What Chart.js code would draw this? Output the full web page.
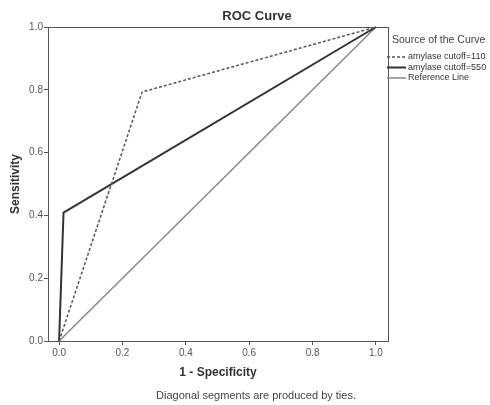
<!DOCTYPE html>
<html>
<head>
<meta charset="utf-8">
<script src="https://cdn.jsdelivr.net/npm/chart.js@4/dist/chart.umd.min.js"></script>
<style>
  html, body { margin: 0; padding: 0; background: #fff; }
  #wrap { width: 490px; height: 405px; }
</style>
</head>
<body>
<div id="wrap"><canvas id="roc"></canvas></div>
<script>
// values
const seriesNames = ["amylase cutoff=110", "amylase cutoff=550", "Reference Line"];
const fpr110 = [0, 0.262, 1];
const tpr110 = [0, 0.793, 1];
const fpr550 = [0, 0.014, 1];
const tpr550 = [0, 0.409, 1];
const fprRef = [0, 1];
const tprRef = [0, 1];
const xTicks = [0, 0.2, 0.4, 0.6, 0.8, 1.0];
const yTicks = [0, 0.2, 0.4, 0.6, 0.8, 1.0];

const FONT = "'Liberation Sans', Arial, sans-serif";

function toPoints(xs, ys) {
  return xs.map((x, i) => ({ x: x, y: ys[i] }));
}

// title, frame, legend and footnote
const decor = {
  id: "decor",
  afterDraw(chart) {
    const ctx = chart.ctx;
    const a = chart.chartArea;
    ctx.save();

    // box round the plot
    ctx.strokeStyle = "#555";
    ctx.lineWidth = 1;
    ctx.strokeRect(a.left + 0.5, a.top + 0.5, a.right - a.left, a.bottom - a.top);

    ctx.fillStyle = "#333";
    ctx.textAlign = "center";
    ctx.textBaseline = "middle";
    ctx.font = "bold 13px " + FONT;
    ctx.fillText("ROC Curve", 257, 16);

    ctx.fillStyle = "#444";
    ctx.font = "11px " + FONT;
    ctx.fillText("Diagonal segments are produced by ties.", 256, 396);

    // legend
    ctx.textAlign = "left";
    ctx.font = "10.5px " + FONT;
    ctx.fillText("Source of the Curve", 392, 40);
    ctx.font = "9px " + FONT;
    chart.data.datasets.forEach((ds, i) => {
      const y = 57 + i * 10.5;
      ctx.strokeStyle = ds.borderColor;
      ctx.lineWidth = ds.borderWidth;
      ctx.setLineDash(ds.borderDash || []);
      ctx.beginPath();
      ctx.moveTo(387, y);
      ctx.lineTo(406, y);
      ctx.stroke();
      ctx.setLineDash([]);
      ctx.fillStyle = "#333";
      ctx.fillText(ds.label, 408, y);
    });
    ctx.restore();
  }
};

new Chart(document.getElementById("roc"), {
  type: "scatter",
  data: {
    datasets: [
      {
        label: seriesNames[0],
        data: toPoints(fpr110, tpr110),
        showLine: true,
        borderColor: "#555",
        borderWidth: 1.5,
        borderDash: [3, 2],
        pointRadius: 0,
        clip: false
      },
      {
        label: seriesNames[1],
        data: toPoints(fpr550, tpr550),
        showLine: true,
        borderColor: "#333",
        borderWidth: 2,
        pointRadius: 0,
        clip: false
      },
      {
        label: seriesNames[2],
        data: toPoints(fprRef, tprRef),
        showLine: true,
        borderColor: "#888",
        borderWidth: 1.5,
        pointRadius: 0,
        clip: false
      }
    ]
  },
  options: {
    responsive: true,
    maintainAspectRatio: false,
    animation: false,
    layout: { padding: { left: 0, top: 27, right: 102, bottom: 0 } },
    plugins: {
      legend: { display: false },
      tooltip: { enabled: false }
    },
    scales: {
      x: {
        type: "linear",
        min: -0.035,
        max: 1.038,
        afterBuildTicks: (scale) => {
          scale.ticks = xTicks.map((v) => ({ value: v }));
        },
        afterFit: (scale) => {
          scale.height = 64;
        },
        grid: { drawOnChartArea: false, drawTicks: true, tickLength: 4, color: "#555" },
        border: { display: true, color: "#555" },
        ticks: {
          color: "#555",
          font: { family: FONT, size: 10 },
          padding: 2,
          maxRotation: 0,
          callback: (v) => v.toFixed(1)
        },
        title: {
          display: true,
          text: "1 - Specificity",
          color: "#333",
          font: { family: FONT, size: 12, weight: "bold" },
          padding: { top: 0, bottom: 25 }
        }
      },
      y: {
        type: "linear",
        min: 0,
        max: 1,
        afterBuildTicks: (scale) => {
          scale.ticks = yTicks.map((v) => ({ value: v }));
        },
        afterFit: (scale) => {
          scale.width = 48;
        },
        grid: { drawOnChartArea: false, drawTicks: true, tickLength: 4, color: "#555" },
        border: { display: true, color: "#555" },
        ticks: {
          color: "#555",
          font: { family: FONT, size: 10 },
          padding: 1,
          callback: (v) => v.toFixed(1)
        },
        title: {
          display: true,
          text: "Sensitivity",
          color: "#333",
          font: { family: FONT, size: 12, weight: "bold" },
          padding: { top: 8, bottom: 0 }
        }
      }
    }
  },
  plugins: [decor]
});
</script>
</body>
</html>
